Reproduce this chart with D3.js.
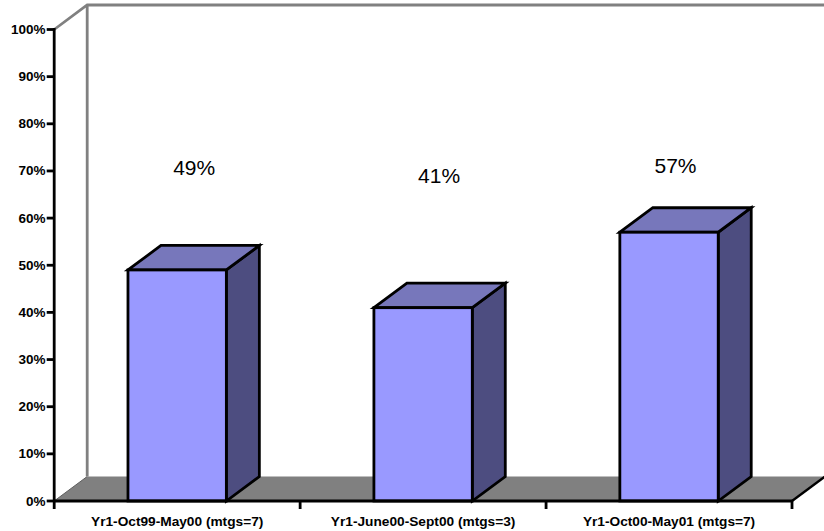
<!DOCTYPE html>
<html><head><meta charset="utf-8">
<script src="https://cdnjs.cloudflare.com/ajax/libs/d3/7.8.5/d3.min.js"></script>
<style>html,body{margin:0;padding:0;background:#fff}svg{display:block}text{font-family:"Liberation Sans",Arial,sans-serif}</style>
</head><body><script>
const categories = ["Yr1-Oct99-May00 (mtgs=7)", "Yr1-June00-Sept00 (mtgs=3)", "Yr1-Oct00-May01 (mtgs=7)"];
const values = [49, 41, 57];
const valueLabels = ["49%", "41%", "57%"];
const yTicks = [0,10,20,30,40,50,60,70,80,90,100];

const W=824,H=531,dx=33,dy=-24.5;
const svg=d3.select("body").append("svg").attr("width",W).attr("height",H);
const y=d3.scaleLinear().domain([0,100]).range([501,29.5]);
const x=d3.scaleBand().domain(categories).range([54.2,792]).paddingInner(0.6).paddingOuter(0.3);
const x0=54.2,x1=792,y0=y(0),y1=y(100);
const grey="#808080";
const pts=a=>a.map(p=>p.join(",")).join(" ");

// floor
svg.append("polygon").attr("points",pts([[x0,y0],[x0+dx,y0+dy],[x1+dx,y0+dy],[x1,y0]])).attr("fill",grey);
svg.append("line").attr("x1",x0).attr("y1",y0).attr("x2",x0+dx).attr("y2",y0+dy).attr("stroke","#5e5e5e").attr("stroke-width",1);
// walls
svg.append("path").attr("fill","none").attr("stroke",grey).attr("stroke-width",2.8)
  .attr("d",`M${x0},${y1}L${x0+dx},${y1+dy}L${x1+dx},${y1+dy}M${x0+dx},${y1+dy}L${x0+dx},${y0+dy}`);

// bars
const g=svg.selectAll("g.bar").data(categories).join("g").attr("class","bar")
  .attr("stroke","#000").attr("stroke-width",2.8).attr("stroke-linejoin","miter");
g.each(function(c,i){
  const s=d3.select(this),l=x(c),r=l+x.bandwidth(),t=y(values[i]);
  s.append("polygon").attr("fill","#4d4d80").attr("points",pts([[r,t],[r+dx,t+dy],[r+dx,y0+dy],[r,y0]]));
  s.append("polygon").attr("fill","#7777bb").attr("points",pts([[l,t],[l+dx,t+dy],[r+dx,t+dy],[r,t]]));
  s.append("rect").attr("fill","#9999ff").attr("x",l).attr("y",t).attr("width",r-l).attr("height",y0-t);
});

// axes
const ax=svg.append("g").attr("stroke","#000").attr("stroke-width",2.8);
ax.append("line").attr("x1",x0).attr("x2",x0).attr("y1",y1-1.4).attr("y2",y0+8);
ax.append("line").attr("x1",x0).attr("x2",x1+1).attr("y1",y0).attr("y2",y0);
ax.selectAll("line.yt").data(yTicks).join("line").attr("class","yt")
  .attr("x1",x0-7.5).attr("x2",x0).attr("y1",d=>y(d)).attr("y2",d=>y(d));
const step=(x1-x0)/categories.length;
ax.selectAll("line.xt").data(d3.range(1,categories.length+1)).join("line").attr("class","xt")
  .attr("x1",d=>x0+d*step).attr("x2",d=>x0+d*step).attr("y1",y0).attr("y2",y0+8);
// floor right edge
ax.append("line").attr("x1",x1).attr("y1",y0).attr("x2",x1+dx).attr("y2",y0+dy).attr("stroke-width",2.4);

// tick labels
svg.selectAll("text.yl").data(yTicks).join("text").attr("class","yl")
  .attr("x",45.5).attr("y",d=>y(d)+4.5).attr("text-anchor","end")
  .attr("font-size",13.5).attr("font-weight","bold").attr("fill","#000").text(d=>d+"%");
svg.selectAll("text.xl").data(categories).join("text").attr("class","xl")
  .attr("x",(d,i)=>x0+(i+.5)*step).attr("y",525.5).attr("text-anchor","middle")
  .attr("font-size",13.7).attr("font-weight","bold").attr("fill","#000").text(d=>d);
// value labels (free-floating in the source, nudged individually)
const labelNudgeX=[17,16,6.5], labelBaseline=[175,183,172.5];
svg.selectAll("text.vl").data(valueLabels).join("text").attr("class","vl")
  .attr("x",(d,i)=>x(categories[i])+x.bandwidth()/2+labelNudgeX[i]).attr("y",(d,i)=>labelBaseline[i])
  .attr("text-anchor","middle").attr("font-size",21).attr("fill","#000").text(d=>d);
</script></body></html>
